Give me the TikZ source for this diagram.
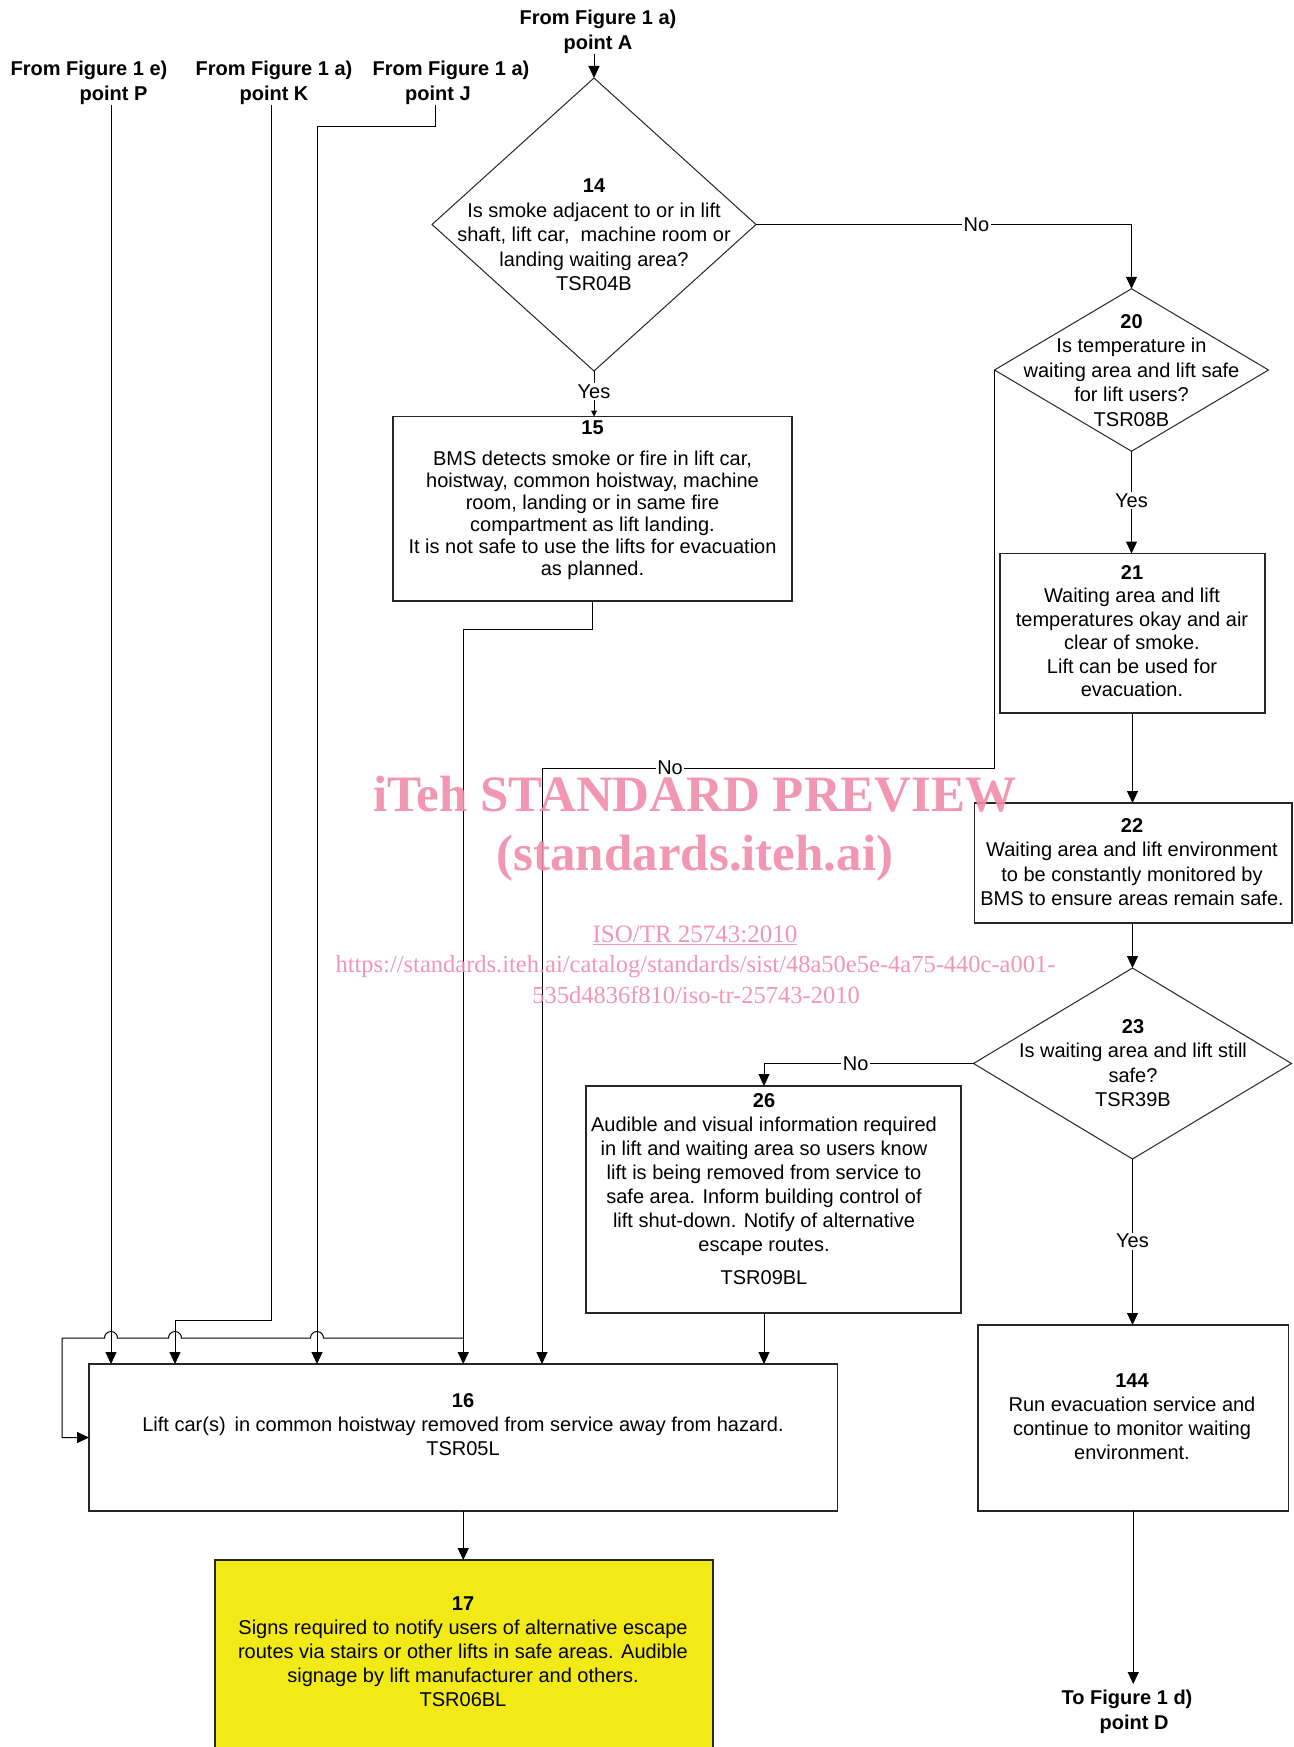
\documentclass[tikz,border=0pt]{standalone}
\usepackage{fontspec}
\setmainfont{Liberation Sans}
\newfontfamily\wmfont{Liberation Serif}
\usetikzlibrary{arrows.meta,shapes.geometric,calc}
\definecolor{signyellow}{RGB}{242,234,22}
\definecolor{wmpink}{RGB}{240,140,170}
\begin{document}
\begin{tikzpicture}[x=1pt,y=-1pt,
  box/.style={draw=black!85,line width=1.1pt,rectangle,inner sep=0pt,outer sep=0pt},
  dia/.style={draw=black!85,line width=1pt,diamond,inner sep=0pt,outer sep=0pt},
  txt/.style={anchor=north,inner sep=0pt,align=center,font=\fontsize{20}{24}\selectfont},
  lbl/.style={fill=white,inner sep=1.5pt,font=\fontsize{20}{24}\selectfont},
  refl/.style={anchor=north,inner sep=0pt,align=center,font=\bfseries\fontsize{20}{24.5}\selectfont},
  conn/.style={line width=1pt},
  arr/.style={conn,-{Triangle[length=12pt,width=11pt]}},
  sarr/.style={conn,-{Triangle[length=6pt,width=6pt]}},
  wm/.style={inner sep=0pt,anchor=base,text=wmpink,text opacity=0.9}
]
\fill[white] (0,0) rectangle (1293,1747);
\useasboundingbox (0,0) rectangle (1293,1747);

% ---------- shapes ----------
\node[dia,minimum width=324,minimum height=293] (d14) at (594,224.5) {};
\node[dia,minimum width=274,minimum height=162.5] (d20) at (1131.5,370) {};
\node[dia,minimum width=318,minimum height=191] (d23) at (1132.5,1063.5) {};

\node[box,minimum width=399,minimum height=184.5] (b15) at (592.5,508.75) {};
\node[box,minimum width=265,minimum height=159.5] (b21) at (1132.5,633.25) {};
\node[box,minimum width=317.5,minimum height=120] (b22) at (1133.25,863) {};
\node[box,minimum width=375,minimum height=227] (b26) at (773.5,1199.5) {};
\node[box,minimum width=310.5,minimum height=186] (b144) at (1133.25,1418) {};
\node[box,minimum width=748.5,minimum height=147] (b16) at (463.25,1437.5) {};
\node[box,fill=signyellow,minimum width=498,minimum height=200] (b17) at (464,1660) {};

% ---------- off-page references ----------
\node[refl] (lblA) at (598,10) {From Figure 1 a)\\point A};
\node[refl] (lblP) at (89,61) {From Figure 1 e)\\\rule{49pt}{0pt}point P};
\node[refl] (lblK) at (274,61) {From Figure 1 a)\\point K};
\node[refl] (lblJ) at (451,61) {From Figure 1 a)\\point J\rule{26pt}{0pt}};
\node[refl] (lblD) at (1127,1690) {To Figure 1 d)\\\rule{14pt}{0pt}point D};

\coordinate (xP) at (111,0);
\coordinate (xK) at (271,0);
\coordinate (jK) at (175,1320);
\coordinate (xJ) at (435.5,0);
\coordinate (jJ) at (317,127);
\coordinate (j15) at (463.25,629);
\coordinate (sp) at (463.25,1338);
\coordinate (c20) at (542,768);
\coordinate (x26) at (764,0);
\coordinate (lc) at (62,1338);
\coordinate (endD) at (1133.25,1684);

% ---------- connectors ----------
\draw[arr] (d14.north |- lblA.south) -- (d14.north);
\draw[sarr] (d14.south) -- node[lbl,pos=0.45]{Yes} (d14.south |- b15.north);
\draw[arr] (d14.east) -- node[lbl,pos=0.587]{No} (d14.east -| d20.north) -- (d20.north);
\draw[arr] (b15.south) -- (b15.south |- j15) -- (j15) -- (j15 |- b16.north);
\draw[arr] (sp) -- (323.5,1338) arc[start angle=0,end angle=-180,radius=6.5]
  -- (181.5,1338) arc[start angle=0,end angle=-180,radius=6.5]
  -- (117.5,1338) arc[start angle=0,end angle=-180,radius=6.5]
  -- (lc) -- (lc |- b16.west) -- (b16.west);
\draw[arr] (lblP.south -| xP) -- (xP |- b16.north);
\draw[arr] (lblK.south -| xK) -- (xK |- jK) -- (jK) -- (jK |- b16.north);
\draw[arr] (lblJ.south -| xJ) -- (xJ |- jJ) -- (jJ) -- (jJ |- b16.north);
\draw[arr] (d20.south) -- node[lbl,pos=0.48]{Yes} (d20.south |- b21.north);
\draw[arr] (d20.west) -- (d20.west |- c20) -- node[lbl,pos=0.717]{No} (c20) -- (c20 |- b16.north);
\draw[arr] (b21.south) -- (b21.south |- b22.north);
\draw[arr] (d23.north |- b22.south) -- (d23.north);
\draw[arr] (d23.west) -- node[lbl,pos=0.5625]{No} (d23.west -| x26) -- (x26 |- b26.north);
\draw[arr] (x26 |- b26.south) -- (x26 |- b16.north);
\draw[arr] (d23.south) -- node[lbl,pos=0.495]{Yes} (d23.south |- b144.north);
\draw[arr] (b144.south) -- (b144.south |- endD);
\draw[arr] (b16.south) -- (b16.south |- b17.north);

% ---------- texts ----------
\node[txt,font=\fontsize{20}{24.5}\selectfont] (t14) at (594,179) {\textbf{14}\\Is smoke adjacent to or in lift\\shaft, lift car,\ \ machine room or\\landing waiting area?\\TSR04B};
\node[txt,font=\fontsize{20}{24.5}\selectfont] (t20) at (1131.5,314) {\textbf{20}\\Is temperature in\\waiting area and lift safe\\for lift users?\\TSR08B};
\node[txt,font=\fontsize{20}{22}\selectfont] (t15) at (592.5,421) {\textbf{15}\\[9pt]BMS detects smoke or fire in lift car,\\hoistway, common hoistway, machine\\room, landing or in same fire\\compartment as lift landing.\\It is not safe to use the lifts for evacuation\\as planned.};
\node[txt,font=\fontsize{20}{23.5}\selectfont] (t21) at (1132,565) {\textbf{21}\\Waiting area and lift\\temperatures okay and air\\clear of smoke.\\Lift can be used for\\evacuation.};
\node[txt,font=\fontsize{20}{24.5}\selectfont] (t22) at (1132,818) {\textbf{22}\\Waiting area and lift environment\\to be constantly monitored by\\BMS to ensure areas remain safe.};
\node[txt,font=\fontsize{20}{24.5}\selectfont] (t23) at (1133,1019) {\textbf{23}\\Is waiting area and lift still\\safe?\\TSR39B};
\node[txt] (t26) at (764,1093) {\textbf{26}\\Audible and visual information required\\in lift and waiting area so users know\\lift is being removed from service to\\safe area. Inform building control of\\lift shut-down. Notify of alternative\\escape routes.\\[9pt]TSR09BL};
\node[txt] (t144) at (1132,1374) {\textbf{144}\\Run evacuation service and\\continue to monitor waiting\\environment.};
\node[txt] (t16) at (463,1393) {\textbf{16}\\Lift car(s)\,\ in common hoistway removed from service away from hazard.\\TSR05L};
\node[txt] (t17) at (463,1597) {\textbf{17}\\Signs required to notify users of alternative escape\\routes via stairs or other lifts in safe areas. Audible\\signage by lift manufacturer and others.\\TSR06BL};

% ---------- watermark ----------
\node[wm,font=\wmfont\bfseries\fontsize{51}{51}\selectfont] (wm1) at (695,811) {iTeh STANDARD PREVIEW};
\node[wm,font=\wmfont\bfseries\fontsize{51}{51}\selectfont] (wm2) at (695,870) {(standards.iteh.ai)};
\node[wm,font=\wmfont\fontsize{25}{25}\selectfont] (wm3) at (695,942) {\underline{ISO/TR 25743:2010}};
\node[wm,font=\wmfont\fontsize{24.5}{25}\selectfont] (wm4) at (695.5,972) {https://standards.iteh.ai/catalog/standards/sist/48a50e5e-4a75-440c-a001-};
\node[wm,font=\wmfont\fontsize{24.5}{25}\selectfont] (wm5) at (696,1003) {535d4836f810/iso-tr-25743-2010};
\end{tikzpicture}
\end{document}
